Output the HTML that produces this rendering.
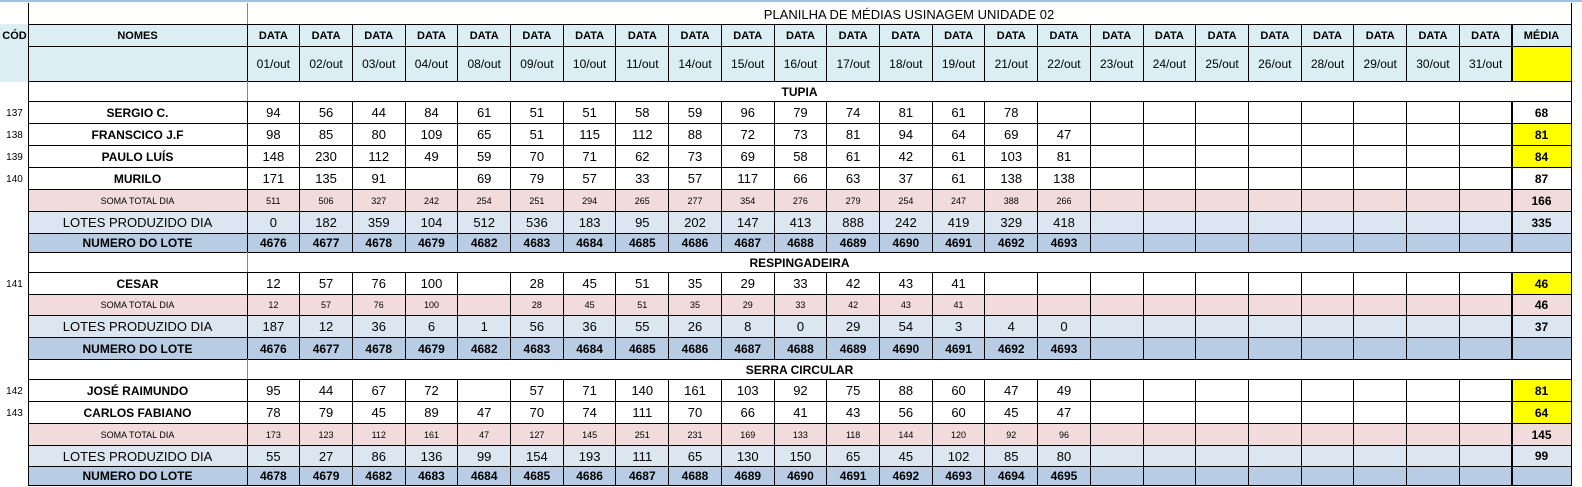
<!DOCTYPE html>
<html><head><meta charset="utf-8">
<style>
body{margin:0;width:1582px;height:487px;background:#fff;overflow:hidden;font-family:"Liberation Sans",Arial,sans-serif;}
#sheet{position:absolute;left:0;top:0;width:1582px;height:487px;}
.c{position:absolute;box-sizing:border-box;display:flex;align-items:center;justify-content:center;font-size:13px;color:#000;white-space:nowrap;overflow:hidden;padding-top:1px;}
.b{border:1px solid #000;margin:-0.5px 0 0 -0.5px;}
.bold{font-weight:bold;font-size:12px;}
.sm{font-size:9px;}
.hdr{background:#daeef3;}
.soma{background:#f2dcdb;}
.lotes{background:#dce6f1;}
.num{background:#b8cce4;font-weight:bold;font-size:12px;}
.yel{background:#ffff00;}
</style></head><body>
<div id="sheet"></div>
<script>
const dates=["01/out","02/out","03/out","04/out","08/out","09/out","10/out","11/out","14/out","15/out","16/out","17/out","18/out","19/out","21/out","22/out","23/out","24/out","25/out","26/out","28/out","29/out","30/out","31/out"];
const tupiaNames=["SERGIO C.","FRANSCICO J.F","PAULO LUÍS","MURILO"];
const tupiaCodes=["137","138","139","140"];
const tupiaVals=[
[94,56,44,84,61,51,51,58,59,96,79,74,81,61,78,""],
[98,85,80,109,65,51,115,112,88,72,73,81,94,64,69,47],
[148,230,112,49,59,70,71,62,73,69,58,61,42,61,103,81],
[171,135,91,"",69,79,57,33,57,117,66,63,37,61,138,138]];
const tupiaSoma=[511,506,327,242,254,251,294,265,277,354,276,279,254,247,388,266];
const tupiaLotes=[0,182,359,104,512,536,183,95,202,147,413,888,242,419,329,418];
const tupiaLote=[4676,4677,4678,4679,4682,4683,4684,4685,4686,4687,4688,4689,4690,4691,4692,4693];
const tupiaMedia=["68","81","84","87","166","335",""];
const respNames=["CESAR"];
const respCodes=["141"];
const respVals=[[12,57,76,100,"",28,45,51,35,29,33,42,43,41,"",""]];
const respSoma=[12,57,76,100,"",28,45,51,35,29,33,42,43,41,"",""];
const respLotes=[187,12,36,6,1,56,36,55,26,8,0,29,54,3,4,0];
const respLote=[4676,4677,4678,4679,4682,4683,4684,4685,4686,4687,4688,4689,4690,4691,4692,4693];
const respMedia=["46","46","37",""];
const serraNames=["JOSÉ RAIMUNDO","CARLOS FABIANO"];
const serraCodes=["142","143"];
const serraVals=[
[95,44,67,72,"",57,71,140,161,103,92,75,88,60,47,49],
[78,79,45,89,47,70,74,111,70,66,41,43,56,60,45,47]];
const serraSoma=[173,123,112,161,47,127,145,251,231,169,133,118,144,120,92,96];
const serraLotes=[55,27,86,136,99,154,193,111,65,130,150,65,45,102,85,80];
const serraLote=[4678,4679,4682,4683,4684,4685,4686,4687,4688,4689,4690,4691,4692,4693,4694,4695];
const serraMedia=["81","64","145","99",""];
const yellowMedia={tupia:[1,2],resp:[0],serra:[0,1]};

const sheet=document.getElementById('sheet');
const X0=247,CW=(1512-247)/24,MX=1512,MX1=1571;
function colX(i){return X0+i*CW;}
function cell(x0,x1,y0,y1,txt,cls,name){
  const d=document.createElement('div');
  d.className='c '+(cls||'');
  d.style.left=x0+'px';d.style.top=y0+'px';d.style.width=(x1-x0+1)+'px';d.style.height=(y1-y0+1)+'px';
  d.textContent=txt;
  
  
  sheet.appendChild(d);return d;
}
const tl=cell(0,1582,0,1,'','','top-border');tl.style.background='#9dc3e6';
const lc=cell(28,28,3,485,'','','code-column-border');lc.style.background='#000';
cell(28,247,3,24,'','','title-left-blank').style.borderRight='1px solid #888';
const tt=cell(247,MX1,3,24,'PLANILHA DE MÉDIAS USINAGEM UNIDADE 02','','sheet-title');tt.style.fontSize='13px';tt.style.borderRight='1px solid #000';
cell(0,28,24,46,'CÓD','hdr bold','cod-header').style.fontSize='11px';
cell(28,247,24,46,'NOMES','hdr bold b','names-header').style.fontSize='11px';
cell(0,28,46,81,'','hdr','cod-header-blank');
cell(28,247,46,81,'','hdr b','names-header-blank');
for(let i=0;i<24;i++){
  const h=cell(colX(i),colX(i+1),24,46,'DATA','hdr bold b','data-header');h.style.fontSize='11px';
  const d=cell(colX(i),colX(i+1),46,81,dates[i],'hdr b','date-header');d.style.fontSize='12px';
}
cell(MX,MX1,24,46,'MÉDIA','hdr bold b','media-header').style.fontSize='11px';
cell(MX,MX1,46,81,'','yel b','media-header-blank');

function section(title,y0,y1,rowsY,names,codes,vals,soma,lotes,lote,media,yel){
  cell(28,MX1,y0,y1,title,'bold b','section-title');
  const g=cell(247,247,y0,y1,'','','section-gridline');g.style.background='#888';
  let r=0;
  for(let p=0;p<names.length;p++){
    const [a,b]=rowsY[r++];
    cell(0,28,a,b,codes[p],'','operator-code').style.fontSize='10px';
    cell(28,247,a,b,names[p],'bold b','operator-name');
    for(let i=0;i<24;i++) cell(colX(i),colX(i+1),a,b,i<16?String(vals[p][i]):'','b','operator-value');
    cell(MX,MX1,a,b,media[p],'bold b'+(yel.includes(p)?' yel':''),'operator-media');
  }
  const rows=[['SOMA TOTAL DIA','soma',soma,'soma-total-row'],['LOTES PRODUZIDO DIA','lotes',lotes,'lotes-produzidos-row'],['NUMERO DO LOTE','num',lote,'numero-lote-row']];
  rows.forEach((rw,k)=>{
    const [a,b]=rowsY[r++];
    const lab=cell(28,247,a,b,rw[0],rw[1]+' b',rw[3]+'-label');
    if(rw[1]==='soma')lab.classList.add('sm');
    if(rw[1]==='lotes')lab.style.fontSize='13px';
    for(let i=0;i<24;i++){
      const v=cell(colX(i),colX(i+1),a,b,i<16?String(rw[2][i]):'',rw[1]+' b',rw[3]+'-value');
      if(rw[1]==='soma')v.classList.add('sm');
    }
    cell(MX,MX1,a,b,media[names.length+k],rw[1]+' b bold',rw[3]+'-media');
  });
}
section('TUPIA',81,101,[[101,123],[123,145],[145,167],[167,189],[189,211],[211,233],[233,252]],tupiaNames,tupiaCodes,tupiaVals,tupiaSoma,tupiaLotes,tupiaLote,tupiaMedia,yellowMedia.tupia);
section('RESPINGADEIRA',252,272,[[272,294],[294,315],[315,337],[337,359]],respNames,respCodes,respVals,respSoma,respLotes,respLote,respMedia,yellowMedia.resp);
section('SERRA CIRCULAR',359,379,[[379,401],[401,423],[423,445],[445,466],[466,485]],serraNames,serraCodes,serraVals,serraSoma,serraLotes,serraLote,serraMedia,yellowMedia.serra);
</script>
</body></html>
